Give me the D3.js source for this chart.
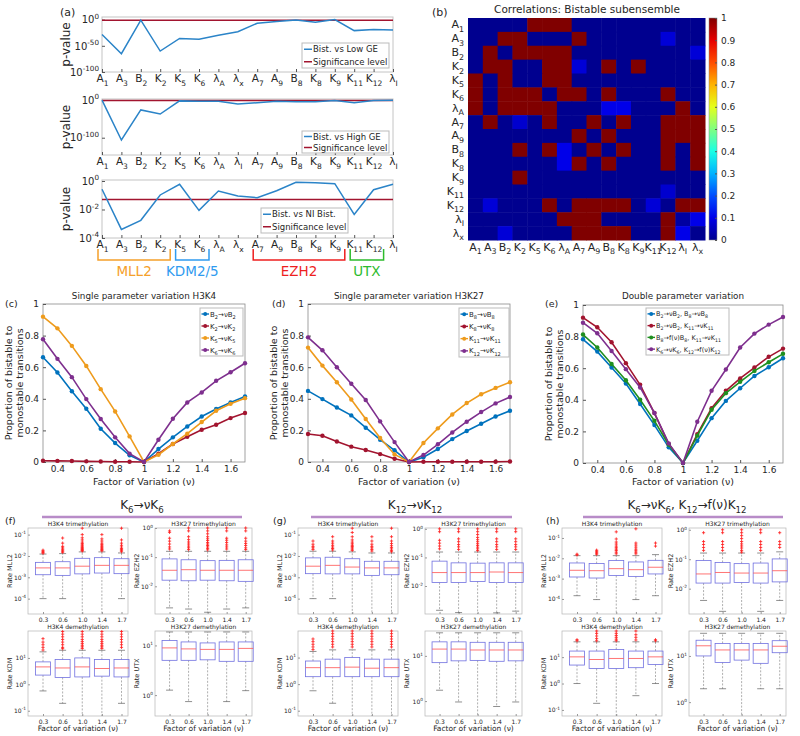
<!DOCTYPE html>
<html>
<head>
<meta charset="utf-8">
<script src="https://cdn.jsdelivr.net/npm/d3@7"></script>
<style>
body { margin: 0; background: #fff; }
text { font-family: "DejaVu Sans", sans-serif; }
</style>
</head>
<body>
<div id="chart"></div>
<script>
// ---------- data: panel (a), p-values stored as log10 exponents
const pCatsTop = ["A_1","A_3","B_2","K_2","K_5","K_6","λ_A","λ_x","A_7","A_9","B_8","K_8","K_9","K_{11}","K_{12}","λ_I"];
const pCatsMid = ["A_1","A_3","B_2","K_2","K_5","K_6","λ_A","λ_I","A_7","A_9","B_8","K_8","K_9","K_{11}","K_{12}","λ_I"];
const pLowGE  = [-28.5,-65,-1,-60,-36,-37.5,-30,-23,-7,-3.5,-0.5,-5,0,-21,-19,-20];
const pHighGE = [0,-106,-26,-37,-2,-3,-3,-10,-7,-3,-4,-4,-1,-7,-1,0];
const pNIBist = [-0.58,-3.4,-2.76,-0.98,-0.23,-2.06,-0.7,-1.05,-1.17,-0.68,-0.09,-0.12,-0.19,-2.34,-0.61,-0.23];
const sigLevel = 0.05;
const enzymeGroups = [
  {name: "MLL2",   from: 0,  to: 3,  color: "#f5a02a"},
  {name: "KDM2/5", from: 4,  to: 5,  color: "#2f9bef"},
  {name: "EZH2",   from: 8,  to: 12, color: "#ee1f1f"},
  {name: "UTX",    from: 13, to: 14, color: "#2dbb2d"}
];

// ---------- data: panel (b)
const corrLabels = ["A_1","A_3","B_2","K_2","K_5","K_6","λ_A","A_7","A_9","B_8","K_8","K_9","K_{11}","K_{12}","λ_I","λ_x"];
const corrRows = [
  [0,0,0,0,1,1,1,0,0,0,0,0,0,0,0,0],
  [0,0,1,1,0,0,0,1,0,0,0,0,0,.08,0,0],
  [0,1,0,1,1,1,1,0,0,0,0,0,0,0,0,.08],
  [0,1,1,0,0,1,1,.08,0,1,0,1,0,0,0,0],
  [1,0,1,0,0,1,1,0,0,0,0,0,0,0,0,0],
  [1,0,1,1,1,0,1,1,0,1,0,0,0,1,0,0],
  [1,0,1,1,1,1,0,0,0,.1,.1,0,0,0,1,0],
  [0,1,0,.07,0,1,0,0,1,0,1,0,0,1,1,1],
  [0,0,0,0,0,0,0,1,0,1,0,0,0,1,1,1],
  [0,0,0,1,0,1,.1,0,1,0,1,0,0,1,0,1],
  [0,0,0,0,0,0,.1,1,0,1,0,0,0,1,0,1],
  [0,0,0,1,0,0,0,0,0,0,0,0,0,0,0,0],
  [0,0,0,0,0,0,0,0,0,0,0,0,0,.07,0,0],
  [0,.08,0,0,0,1,0,1,1,1,1,0,.08,0,1,1],
  [0,0,0,0,0,0,1,1,1,0,0,0,0,1,.02,.1],
  [0,0,.08,0,0,0,0,1,1,1,1,0,0,1,.1,0]
];
const cbTicks = [0,0.1,0.2,0.3,0.4,0.5,0.6,0.7,0.8,0.9,1];

// ---------- data: panels (c)-(e)
const factors = [0.3,0.4,0.5,0.6,0.7,0.8,0.9,1.0,1.1,1.2,1.3,1.4,1.5,1.6,1.7];
const cB2 = [0.663,0.566,0.448,0.337,0.21,0.12,0.042,0,0.082,0.156,0.225,0.288,0.335,0.377,0.415];
const cK2 = [0.008,0.007,0.006,0.004,0.003,0.002,0.002,0,0.053,0.114,0.16,0.204,0.236,0.278,0.31];
const cK5 = [0.92,0.846,0.735,0.608,0.461,0.32,0.162,0,0.046,0.114,0.179,0.253,0.324,0.368,0.404];
const cK6 = [0.777,0.653,0.537,0.398,0.272,0.156,0.053,0,0.141,0.274,0.377,0.44,0.514,0.568,0.625];
const dB8 = [0.45,0.398,0.345,0.295,0.217,0.141,0.074,0,0.03,0.082,0.145,0.196,0.242,0.288,0.324];
const dK8 = [0.177,0.166,0.13,0.097,0.076,0.05,0.021,0,0.002,0.002,0.002,0.002,0.002,0.002,0.003];
const dK11 = [0.724,0.61,0.505,0.396,0.272,0.152,0.048,0,0.12,0.213,0.301,0.373,0.429,0.469,0.505];
const dK12 = [0.789,0.707,0.6,0.495,0.392,0.257,0.126,0,0.044,0.112,0.187,0.255,0.316,0.371,0.411];
const eB2B8 = [0.783,0.705,0.604,0.503,0.373,0.24,0.099,0,0.141,0.284,0.393,0.473,0.551,0.606,0.663];
const eB2K11 = [0.92,0.859,0.764,0.632,0.495,0.316,0.12,0,0.183,0.347,0.457,0.535,0.604,0.672,0.724];
const eB8K11 = [0.813,0.731,0.627,0.524,0.4,0.267,0.116,0,0.173,0.337,0.442,0.514,0.583,0.638,0.691];
const eK6K12 = [0.888,0.821,0.709,0.594,0.478,0.316,0.124,0,0.261,0.457,0.592,0.731,0.819,0.876,0.924];
const xTicksLine = [0.4,0.6,0.8,1,1.2,1.4,1.6];
const yTicksLine = [0,0.2,0.4,0.6,0.8,1];

// ---------- data: box plots (f)-(h), log10 of rates
// each box: [lower whisker, q1, median, q3, upper whisker]
const boxFactors = ["0.3","0.6","1.0","1.4","1.7"];
const fMLL2 = [[-4.0,-2.88,-2.56,-2.30,-1.91],[-4.0,-2.91,-2.56,-2.27,-1.89],[-5,-2.84,-2.48,-2.11,-1.81],[-5,-2.80,-2.44,-2.08,-1.81],[-4.0,-2.83,-2.44,-2.13,-1.86]];
const fEZH2 = [[-2.74,-1.79,-1.45,-1.06,-0.8],[-2.78,-1.81,-1.43,-1.09,-0.8],[-2.89,-1.79,-1.45,-1.12,-0.8],[-2.78,-1.81,-1.45,-1.11,-0.8],[-2.74,-1.83,-1.45,-1.09,-0.8]];
const fKDM  = [[-0.25,0.35,0.66,0.85,1.23],[-0.72,0.26,0.62,0.94,1.29],[-1.5,0.28,0.66,1.0,1.29],[-1.5,0.31,0.6,0.94,1.29],[-0.72,0.28,0.62,0.94,1.29]];
const fUTX  = [[0.1,0.7,0.95,1.1,1.27],[-0.13,0.7,0.93,1.07,1.27],[-0.6,0.71,0.92,1.05,1.27],[-0.13,0.68,0.92,1.07,1.27],[0.09,0.68,0.94,1.07,1.27]];
const fMLL2Out = [[-1.73,-1.78,-1.83,-1.87],[-1.16,-1.4,-1.55,-1.62,-1.68,-1.73,-1.78,-1.83],[-0.7,-1.0,-1.15,-1.25,-1.35,-1.42,-1.48,-1.53,-1.58,-1.62,-1.66,-1.7,-1.74,-1.77],[-1.0,-1.2,-1.3,-1.4,-1.47,-1.53,-1.58,-1.63,-1.68,-1.72,-1.76],[-0.7,-1.25,-1.4,-1.5,-1.58,-1.65,-1.7,-1.75,-1.8]];
const fEZH2Out = [[-0.1,-0.15,-0.35,-0.45,-0.55,-0.65,-0.72],[0,-0.1,-0.3,-0.4,-0.48,-0.55,-0.62,-0.68,-0.74],[0,-0.1,-0.2,-0.3,-0.37,-0.43,-0.5,-0.55,-0.6,-0.65,-0.7,-0.75],[0,-0.1,-0.35,-0.42,-0.5,-0.58,-0.65,-0.72],[0,-0.1,-0.35,-0.45,-0.53,-0.6,-0.68,-0.74]];
const fKDMOut = [[1.73,1.6,1.5,1.4,1.3],[2.0,1.9,1.8,1.7,1.6,1.5,1.4,1.35],[2.0,1.9,1.8,1.7,1.62,1.55,1.48,1.42,1.36],[2.0,1.9,1.8,1.7,1.62,1.55,1.48,1.42,1.36],[2.0,1.9,1.8,1.7,1.6,1.5,1.4]];
const fUTXOut = [[],[],[],[],[]];

const gMLL2 = [[-4.0,-2.83,-2.48,-2.09,-1.78],[-4.0,-2.84,-2.44,-2.06,-1.78],[-5,-2.84,-2.52,-2.13,-1.81],[-5,-2.91,-2.56,-2.25,-1.86],[-5,-2.88,-2.56,-2.25,-1.86]];
const gEZH2 = [[-2.85,-1.88,-1.53,-1.13,-0.81],[-2.93,-1.88,-1.53,-1.19,-0.81],[-3.2,-1.84,-1.53,-1.2,-0.81],[-2.94,-1.88,-1.51,-1.19,-0.81],[-2.88,-1.88,-1.53,-1.19,-0.81]];
const gKDM  = [[-0.25,0.28,0.62,0.87,1.23],[-0.72,0.28,0.62,0.94,1.29],[-1.5,0.28,0.64,1.0,1.29],[-1.5,0.28,0.6,0.94,1.29],[-1.5,0.28,0.62,0.94,1.29]];
const gUTX  = [[0.24,0.85,1.15,1.31,1.51],[-0.02,0.89,1.15,1.31,1.51],[-0.6,0.9,1.13,1.3,1.51],[-0.12,0.88,1.13,1.3,1.51],[-0.02,0.89,1.13,1.3,1.51]];
const gMLL2Out = [[-1.3,-1.45,-1.55,-1.62,-1.7],[-1.1,-1.3,-1.4,-1.5,-1.58,-1.65,-1.72],[-0.7,-0.9,-1.1,-1.25,-1.35,-1.43,-1.5,-1.56,-1.62,-1.68,-1.74],[-1.1,-1.3,-1.45,-1.55,-1.62,-1.7,-1.77],[-0.7,-1.1,-1.3,-1.42,-1.52,-1.6,-1.67,-1.74,-1.8]];
const gEZH2Out = [[0,-0.1,-0.4,-0.5,-0.6,-0.7],[0,-0.1,-0.35,-0.45,-0.55,-0.63,-0.72],[0,-0.1,-0.2,-0.3,-0.38,-0.45,-0.52,-0.58,-0.64,-0.7,-0.76],[0,-0.1,-0.35,-0.45,-0.55,-0.63,-0.72],[0,-0.1,-0.35,-0.45,-0.55,-0.63,-0.72]];
const gKDMOut = [[1.7,1.6,1.5,1.4,1.3],[2.0,1.9,1.8,1.7,1.6,1.5,1.4],[2.0,1.9,1.8,1.7,1.6,1.5,1.4],[2.0,1.9,1.8,1.7,1.6,1.5,1.4],[2.0,1.9,1.8,1.7,1.6,1.5,1.4]];
const gUTXOut = [[],[],[],[],[]];

const hMLL2 = [[-3.84,-2.92,-2.59,-2.23,-1.87],[-4.03,-2.97,-2.61,-2.26,-1.87],[-5,-2.85,-2.51,-2.11,-1.87],[-4.03,-2.89,-2.56,-2.18,-1.87],[-3.84,-2.77,-2.44,-2.1,-1.82]];
const hEZH2 = [[-2.4,-1.81,-1.5,-1.04,-0.79],[-2.77,-1.81,-1.45,-1.11,-0.79],[-3.2,-1.79,-1.47,-1.15,-0.79],[-2.77,-1.81,-1.47,-1.13,-0.79],[-2.4,-1.77,-1.39,-0.99,-0.75]];
const hKDM  = [[0.0,0.7,1.01,1.23,1.58],[-0.75,0.57,0.91,1.23,1.58],[-1.5,0.57,0.95,1.29,1.58],[-0.46,0.6,0.95,1.23,1.58],[0.0,0.72,1.01,1.23,1.58]];
const hUTX  = [[0.29,1.0,1.22,1.34,1.49],[0.29,0.86,1.13,1.27,1.49],[-0.6,0.91,1.13,1.27,1.49],[0.29,0.84,1.13,1.27,1.49],[0.29,1.07,1.21,1.33,1.49]];
const hMLL2Out = [[-1.8,-1.84],[-1.6,-1.65,-1.7,-1.75,-1.8],[-0.7,-1.05,-1.2,-1.3,-1.4,-1.48,-1.55,-1.62,-1.7,-1.78],[-0.55,-1.25,-1.35,-1.45,-1.55,-1.63,-1.7,-1.78],[-1.25,-1.4]];
const hEZH2Out = [[-0.1,-0.4,-0.5,-0.6,-0.7],[0,-0.1,-0.4,-0.5,-0.6,-0.7],[0,-0.1,-0.2,-0.3,-0.4,-0.48,-0.55,-0.62,-0.7,-0.76],[0,-0.1,-0.4,-0.5,-0.6,-0.7],[-0.1,-0.4,-0.5,-0.6]];
const hKDMOut = [[1.62,1.66],[2.0,1.9,1.8,1.7,1.62],[2.0,1.9,1.82,1.75,1.68,1.62],[2.0,1.85,1.75,1.65],[1.62,1.66]];
const hUTXOut = [[],[],[],[],[]];

const boxTitles = ["H3K4 trimethylation","H3K27 trimethylation","H3K4 demethylation","H3K27 demethylation"];
const boxYLabels = ["Rate MLL2","Rate EZH2","Rate KDM","Rate UTX"];
const boxYTicks = [[-1,-2,-3,-4],[0,-1,-2],[1,0,-1],[1,0]];

// ---------- helpers
const svg = d3.select("#chart").append("svg")
    .attr("width", 800)
    .attr("height", 736);

// turns "K_{12}" / "10^{-4}" into tspans with sub/superscripts
// base = vertical shift (px) for the first tspan, since a tspan dy replaces the parent's dy
function rich(sel, s, fs, base = 0) {
    sel.text(null);
    const re = /([_^])(\{[^}]*\}|.)/g;
    const parts = [];
    let last = 0, m;
    while ((m = re.exec(s)) !== null) {
        if (m.index > last) parts.push({t: s.slice(last, m.index), k: 0});
        let c = m[2];
        if (c[0] === "{") c = c.slice(1, -1);
        parts.push({t: c, k: m[1] === "_" ? 1 : -1});
        last = re.lastIndex;
    }
    if (last < s.length) parts.push({t: s.slice(last), k: 0});
    let cur = -base;
    parts.forEach(p => {
        const off = p.k === 1 ? fs * 0.32 : p.k === -1 ? -fs * 0.45 : 0;
        sel.append("tspan")
            .attr("dy", (off - cur).toFixed(2))
            .attr("font-size", p.k ? fs * 0.72 : fs)
            .text(p.t);
        cur = off;
    });
    return sel;
}

function label(x, y, s, fs, opts = {}) {
    const t = svg.append("text")
        .attr("x", x).attr("y", y)
        .attr("font-size", fs)
        .attr("fill", opts.fill || "#262626")
        .attr("text-anchor", opts.anchor || "start");
    if (opts.rotate) t.attr("transform", `rotate(-90,${x},${y})`);
    rich(t, s, fs);
    return t;
}

function styleAxis(a, fs, fmt) {
    a.select(".domain").remove();
    a.attr("font-size", fs).attr("font-family", null);
    a.selectAll(".tick line").attr("stroke", "#555");
    a.selectAll(".tick text").attr("fill", "#262626").each(function(d) {
        const t = d3.select(this);
        const em = parseFloat(t.attr("dy")) || 0;
        t.attr("dy", null);
        rich(t, fmt(d), fs, em * fs);
    });
}

// ---------- (a) p-value plots
const aX = d3.scalePoint().domain(d3.range(16)).range([102, 393]);
const aPlots = [
    {vals: pLowGE,  cats: pCatsTop, lo: -100, hi: 5, top: 17, bottom: 72, ticks: [0,-50,-100],
     leg: ["Bist. vs Low GE", "Significance level"], lx: 302, ly: 43, lw: 87, lh: 25},
    {vals: pHighGE, cats: pCatsMid, lo: -146, hi: 3, top: 99, bottom: 155, ticks: [0,-100],
     leg: ["Bist. vs High GE", "Significance level"], lx: 302, ly: 131, lw: 87, lh: 22},
    {vals: pNIBist, cats: pCatsTop, lo: -4, hi: 0.07, top: 180, bottom: 238, ticks: [0,-2,-4],
     leg: ["Bist. vs NI Bist.", "Significance level"], lx: 261, ly: 208, lw: 87, lh: 25}
];

aPlots.forEach(p => {
    const y = d3.scaleLog().domain([10 ** p.lo, 10 ** p.hi]).range([p.bottom, p.top]);
    svg.append("rect")
        .attr("x", 102).attr("y", p.top)
        .attr("width", 291).attr("height", p.bottom - p.top)
        .attr("fill", "none").attr("stroke", "#c4c4c4");

    svg.append("g")
        .attr("transform", "translate(102,0)")
        .call(d3.axisLeft(y).tickValues(p.ticks.map(t => 10 ** t)).tickSizeInner(-3).tickSizeOuter(0).tickPadding(3))
        .call(a => styleAxis(a, 10, d => "10^{" + Math.round(Math.log10(d)) + "}"));

    svg.append("g")
        .attr("transform", `translate(0,${p.bottom})`)
        .call(d3.axisBottom(aX).tickSizeInner(-3).tickSizeOuter(0).tickPadding(3))
        .call(a => styleAxis(a, 10.5, i => p.cats[i]));

    svg.append("line")
        .attr("x1", 102).attr("x2", 393)
        .attr("y1", y(sigLevel)).attr("y2", y(sigLevel))
        .attr("stroke", "#a2142f").attr("stroke-width", 1.5);

    svg.append("path")
        .datum(p.vals)
        .attr("d", d3.line().x((d, i) => aX(i)).y(d => y(10 ** d)))
        .attr("fill", "none").attr("stroke", "#2b84c8").attr("stroke-width", 1.5);

    label(70, (p.top + p.bottom) / 2, "p-value", 12, {anchor: "middle", rotate: true});

    // legend
    svg.append("rect")
        .attr("x", p.lx).attr("y", p.ly).attr("width", p.lw).attr("height", p.lh)
        .attr("fill", "#fff").attr("stroke", "#bbb");
    const rowH = p.lh / 2;
    ["#2b84c8", "#a2142f"].forEach((c, i) => {
        const yy = p.ly + rowH * (i + 0.5);
        svg.append("line").attr("x1", p.lx + 2).attr("x2", p.lx + 10)
            .attr("y1", yy).attr("y2", yy).attr("stroke", c).attr("stroke-width", 1.5);
        label(p.lx + 11, yy + 3, p.leg[i], 8.5);
    });
});

label(60, 16, "(a)", 11);

// enzyme brackets under (a)
enzymeGroups.forEach(gr => {
    const x0 = aX(gr.from) - 4, x1 = aX(gr.to) + 10;
    svg.append("path")
        .attr("d", `M${x0},249V260H${x1}V249`)
        .attr("fill", "none").attr("stroke", gr.color).attr("stroke-width", 1.5);
    label((x0 + x1) / 2, 276, gr.name, 13.5, {anchor: "middle", fill: gr.color});
});

// ---------- (b) heatmap
const jet = d3.scaleLinear()
    .domain([0, 0.125, 0.375, 0.625, 0.875, 1])
    .range(["#00008f", "#0000ff", "#00ffff", "#ffff00", "#ff0000", "#800000"]);
const hx = d3.scaleBand().domain(d3.range(16)).range([468, 705]);
const hy = d3.scaleBand().domain(d3.range(16)).range([18, 240]);

svg.append("g").selectAll("g")
    .data(corrRows)
    .join("g")
    .selectAll("rect")
    .data((row, i) => row.map((v, j) => ({i, j, v})))
    .join("rect")
    .attr("x", d => hx(d.j)).attr("y", d => hy(d.i))
    .attr("width", hx.bandwidth() + 0.5).attr("height", hy.bandwidth() + 0.5)
    .attr("fill", d => jet(d.v));

svg.append("g").attr("transform", "translate(468,0)")
    .call(d3.axisLeft(hy).tickSize(0).tickPadding(4))
    .call(a => styleAxis(a, 11, i => corrLabels[i]));
svg.append("g").attr("transform", "translate(0,240)")
    .call(d3.axisBottom(hx).tickSize(0).tickPadding(3))
    .call(a => styleAxis(a, 11, i => corrLabels[i]));

label(587, 13, "Correlations: Bistable subensemble", 10.5, {anchor: "middle"});
label(432, 16, "(b)", 11);

// colorbar
const cb = d3.scaleLinear().domain([0, 1]).range([240, 18]);
const grad = svg.append("defs").append("linearGradient")
    .attr("id", "jetgrad").attr("x1", 0).attr("x2", 0).attr("y1", 1).attr("y2", 0);
cbTicks.forEach(t => grad.append("stop").attr("offset", t).attr("stop-color", jet(t)));
svg.append("rect").attr("x", 709).attr("y", 18).attr("width", 8).attr("height", 222)
    .attr("fill", "url(#jetgrad)").attr("stroke", "#888").attr("stroke-width", 0.5);
svg.append("g").attr("transform", "translate(717,0)")
    .call(d3.axisRight(cb).tickValues(cbTicks).tickSizeInner(-2).tickSizeOuter(0).tickPadding(4))
    .call(a => styleAxis(a, 9, d => d3.format("~g")(d)));

// ---------- (c)-(e) line panels
const linePanels = [
    {l: 43, r: 245, t: 304, b: 462, tag: "(c)", tagX: 5, title: "Single parameter variation H3K4",
     xlab: "Factor of Variation (ν)",
     series: [cB2, cK2, cK5, cK6],
     names: ["B_2→νB_2", "K_2→νK_2", "K_5→νK_5", "K_6→νK_6"],
     colors: ["#0072bd", "#a2142f", "#ee9b1c", "#7e2f8e"],
     leg: {x: 200, y: 308, w: 43, h: 48, fs: 7}},
    {l: 308, r: 510, t: 304, b: 462, tag: "(d)", tagX: 272, title: "Single parameter variation H3K27",
     xlab: "Factor of variation (ν)",
     series: [dB8, dK8, dK11, dK12],
     names: ["B_8→νB_8", "K_8→νK_8", "K_{11}→νK_{11}", "K_{12}→νK_{12}"],
     colors: ["#0072bd", "#a2142f", "#ee9b1c", "#7e2f8e"],
     leg: {x: 459, y: 308, w: 50, h: 49, fs: 7}},
    {l: 583, r: 783, t: 305, b: 463, tag: "(e)", tagX: 545, title: "Double parameter variation",
     xlab: "Factor of variation (ν)",
     series: [eB2B8, eB2K11, eB8K11, eK6K12],
     names: ["B_2→νB_2, B_8→νB_8", "B_2→νB_2, K_{11}→νK_{11}", "B_8→f(ν)B_8, K_{11}→νK_{11}", "K_6→νK_6, K_{12}→f(ν)K_{12}"],
     colors: ["#0072bd", "#a2142f", "#1f8f1f", "#7e2f8e"],
     leg: {x: 646, y: 308, w: 83, h: 47, fs: 6.5}}
];

linePanels.forEach(p => {
    const x = d3.scaleLinear().domain([0.3, 1.7]).range([p.l, p.r]);
    const y = d3.scaleLinear().domain([0, 1]).range([p.b, p.t]);
    svg.append("rect").attr("x", p.l).attr("y", p.t).attr("width", p.r - p.l).attr("height", p.b - p.t)
        .attr("fill", "none").attr("stroke", "#8a8a8a").attr("stroke-width", 0.8);
    svg.append("g").attr("transform", `translate(${p.l},0)`)
        .call(d3.axisLeft(y).tickValues(yTicksLine).tickSizeInner(-3).tickSizeOuter(0).tickPadding(4))
        .call(a => styleAxis(a, 9, d => d3.format("~g")(d)));
    svg.append("g").attr("transform", `translate(0,${p.b})`)
        .call(d3.axisBottom(x).tickValues(xTicksLine).tickSizeInner(-3).tickSizeOuter(0).tickPadding(4))
        .call(a => styleAxis(a, 9, d => d3.format("~g")(d)));

    p.series.forEach((s, k) => {
        svg.append("path").datum(s)
            .attr("d", d3.line().x((d, i) => x(factors[i])).y(d => y(d)))
            .attr("fill", "none").attr("stroke", p.colors[k]).attr("stroke-width", 1.6);
        svg.append("g").selectAll("circle").data(s).join("circle")
            .attr("cx", (d, i) => x(factors[i])).attr("cy", d => y(d)).attr("r", 2.2)
            .attr("fill", p.colors[k]);
    });

    const lg = p.leg;
    svg.append("rect").attr("x", lg.x).attr("y", lg.y).attr("width", lg.w).attr("height", lg.h)
        .attr("fill", "#fff").attr("stroke", "#bbb");
    p.names.forEach((n, k) => {
        const yy = lg.y + lg.h / 4 * (k + 0.5);
        svg.append("line").attr("x1", lg.x + 1.5).attr("x2", lg.x + 9).attr("y1", yy).attr("y2", yy)
            .attr("stroke", p.colors[k]).attr("stroke-width", 1.4);
        svg.append("circle").attr("cx", lg.x + 5.2).attr("cy", yy).attr("r", 2).attr("fill", p.colors[k]);
        label(lg.x + 10, yy + 2.5, n, lg.fs);
    });

    const cx = (p.l + p.r) / 2;
    label(cx, 299, p.title, 8.8, {anchor: "middle"});
    label(cx, 485, p.xlab, 9.5, {anchor: "middle"});
    const cy = (p.t + p.b) / 2;
    label(p.l - 31, cy, "Proportion of bistable to", 9.5, {anchor: "middle", rotate: true});
    label(p.l - 20, cy, "monostable transitions", 9.5, {anchor: "middle", rotate: true});
    label(p.tagX, 307, p.tag, 9.5);
});

// ---------- (f)-(h) box plot panels
const boxPanels = [
    {ox: 28, tag: "(f)", tagX: 5, head: "K_6→νK_6", headX: 142, line: [42, 242],
     stats: [fMLL2, fEZH2, fKDM, fUTX], outs: [fMLL2Out, fEZH2Out, fKDMOut, fUTXOut],
     doms: [[-4.72,-0.69],[-2.95,0],[-1.2,2.02],[-0.42,1.29]]},
    {ox: 298, tag: "(g)", tagX: 273, head: "K_{12}→νK_{12}", headX: 415, line: [311, 512],
     stats: [gMLL2, gEZH2, gKDM, gUTX], outs: [gMLL2Out, gEZH2Out, gKDMOut, gUTXOut],
     doms: [[-4.72,-0.69],[-2.98,0.03],[-1.2,2.0],[-0.33,1.55]]},
    {ox: 562, tag: "(h)", tagX: 546, head: "K_6→νK_6, K_{12}→f(ν)K_{12}", headX: 687, line: [583, 783],
     stats: [hMLL2, hEZH2, hKDM, hUTX], outs: [hMLL2Out, hEZH2Out, hKDMOut, hUTXOut],
     doms: [[-4.74,-0.51],[-2.86,0.06],[-1.23,1.99],[-0.3,1.54]]}
];
const subRects = [[0, 528, 100, 86], [127, 528, 97, 86], [0, 631, 100, 85], [127, 631, 97, 85]];

boxPanels.forEach(P => {
    label(P.headX, 509, P.head, 12, {anchor: "middle"});
    svg.append("line").attr("x1", P.line[0]).attr("x2", P.line[1]).attr("y1", 517).attr("y2", 517)
        .attr("stroke", "#b88cc8").attr("stroke-width", 2.5);
    label(P.tagX, 524, P.tag, 9.5);

    subRects.forEach((r, k) => {
        const [dx, oy, w, h] = r;
        const ox = P.ox + dx;
        const y = d3.scaleLog().domain(P.doms[k].map(v => 10 ** v)).range([oy + h, oy]).clamp(true);
        const x = d3.scalePoint().domain(boxFactors).range([ox + 0.15 * w, ox + 0.935 * w]);

        svg.append("rect").attr("x", ox).attr("y", oy).attr("width", w).attr("height", h)
            .attr("fill", "none").attr("stroke", "#b5b5b5").attr("stroke-width", 0.7);
        svg.append("g").attr("transform", `translate(${ox},0)`)
            .call(d3.axisLeft(y).tickValues(boxYTicks[k].map(t => 10 ** t)).tickSizeInner(-2).tickSizeOuter(0).tickPadding(2))
            .call(a => { styleAxis(a, 6, d => "10^{" + Math.round(Math.log10(d)) + "}"); a.selectAll("line").attr("stroke", "#999"); });
        svg.append("g").attr("transform", `translate(0,${oy + h})`)
            .call(d3.axisBottom(x).tickSizeInner(-2).tickSizeOuter(0).tickPadding(4))
            .call(a => { styleAxis(a, 6, d => d); a.selectAll("line").attr("stroke", "#999"); });

        const g = svg.append("g");
        P.stats[k].forEach((s, i) => {
            const cx = x(boxFactors[i]);
            const [wl, q1, md, q3, wh] = s.map(v => y(10 ** v));
            g.append("line").attr("x1", cx).attr("x2", cx).attr("y1", q1).attr("y2", wl)
                .attr("stroke", "#8c8c8c").attr("stroke-width", 0.7).attr("stroke-dasharray", "2,1.5");
            g.append("line").attr("x1", cx).attr("x2", cx).attr("y1", q3).attr("y2", wh)
                .attr("stroke", "#8c8c8c").attr("stroke-width", 0.7).attr("stroke-dasharray", "2,1.5");
            [wl, wh].forEach(yy => {
                if (yy > oy + 0.5 && yy < oy + h - 0.5)
                    g.append("line").attr("x1", cx - 3.5).attr("x2", cx + 3.5).attr("y1", yy).attr("y2", yy)
                        .attr("stroke", "#444").attr("stroke-width", 0.6);
            });
            g.append("rect").attr("x", cx - 7.5).attr("y", q3).attr("width", 15).attr("height", q1 - q3)
                .attr("fill", "none").attr("stroke", "#7070e0").attr("stroke-width", 0.8);
            g.append("line").attr("x1", cx - 7.5).attr("x2", cx + 7.5).attr("y1", md).attr("y2", md)
                .attr("stroke", "#ff5050").attr("stroke-width", 0.8);
            g.selectAll(null).data(P.outs[k][i]).join("path")
                .attr("transform", d => `translate(${cx},${y(10 ** d)})`)
                .attr("d", "M-1.6,0H1.6M0,-1.6V1.6")
                .attr("stroke", "#ff1a1a").attr("stroke-width", 0.8);
        });

        label(ox + w / 2, oy - 2.5, boxTitles[k], 6, {anchor: "middle"});
        label(ox - 16, oy + h / 2, boxYLabels[k], 6.5, {anchor: "middle", rotate: true});
        if (k >= 2) label(ox + w / 2, 731, "Factor of variation (ν)", 7.5, {anchor: "middle"});
    });
});
</script>
</body>
</html>
